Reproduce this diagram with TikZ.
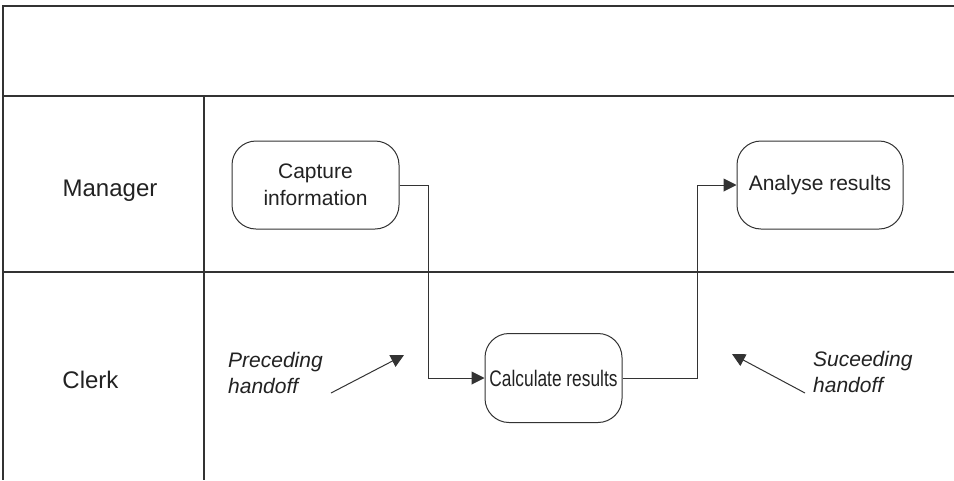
\documentclass[tikz,border=0pt]{standalone}
\usepackage{fontspec}
\usepackage{graphicx}
\setmainfont{Liberation Sans}
\usetikzlibrary{arrows.meta}
\definecolor{ln}{HTML}{333333}
\definecolor{tx}{HTML}{222222}
\begin{document}
\begin{tikzpicture}[x=1pt,y=-1pt,
  frame/.style={draw=ln,line width=1.2pt},
  task/.style={draw=ln,line width=1pt,rounded corners=24pt,align=center,text=tx,
    font=\fontsize{21}{27}\selectfont,inner sep=2pt},
  lane/.style={text=tx,font=\fontsize{24}{28}\selectfont,anchor=base,inner sep=0pt},
  note/.style={text=tx,font=\fontsize{21}{26}\itshape\selectfont,align=left,anchor=north west,inner sep=0pt},
  flow/.style={draw=ln,line width=1pt,-{Triangle[length=13pt,width=13pt]}}]
\useasboundingbox (0,0) rectangle (954,480);
\fill[white] (0,0) rectangle (954,480);
% frame
\draw[frame] (954,6) -- (3,6) -- (3,480);
\draw[frame] (3,96) -- (954,96);
\draw[frame] (3,272) -- (954,272);
\draw[frame] (204,96) -- (204,480);
% lane labels
\node[lane] (mgr) at (110,196) {Manager};
\node[lane] (clk) at (90.5,388) {Clerk};
% tasks
\node[task,minimum width=167pt,minimum height=88pt] (cap) at (315.5,185) {Capture\\information};
\node[task,minimum width=166pt,minimum height=88pt] (ana) at (820,185) {Analyse results};
\node[task,minimum width=137pt,minimum height=89pt,font=\fontsize{22.5}{27}\selectfont] (calc) at (553.5,378) {\scalebox{0.77}[1]{Calculate results}};
% flows
\draw[flow] (cap.east) -- ++(29,0) |- (calc.west);
\draw[flow] (calc.east) -- ++(75,0) |- (ana.west);
% handoff notes
\node[note] (pre) at (228,352.5) {Preceding\\handoff};
\node[note] (suc) at (813,351) {Suceeding\\handoff};
\coordinate (preS) at (331,393);
\coordinate (preT) at (404,355);
\coordinate (sucS) at (805,393);
\coordinate (sucT) at (732,354);
\draw[flow] (preS) -- (preT);
\draw[flow] (sucS) -- (sucT);
\end{tikzpicture}
\end{document}
